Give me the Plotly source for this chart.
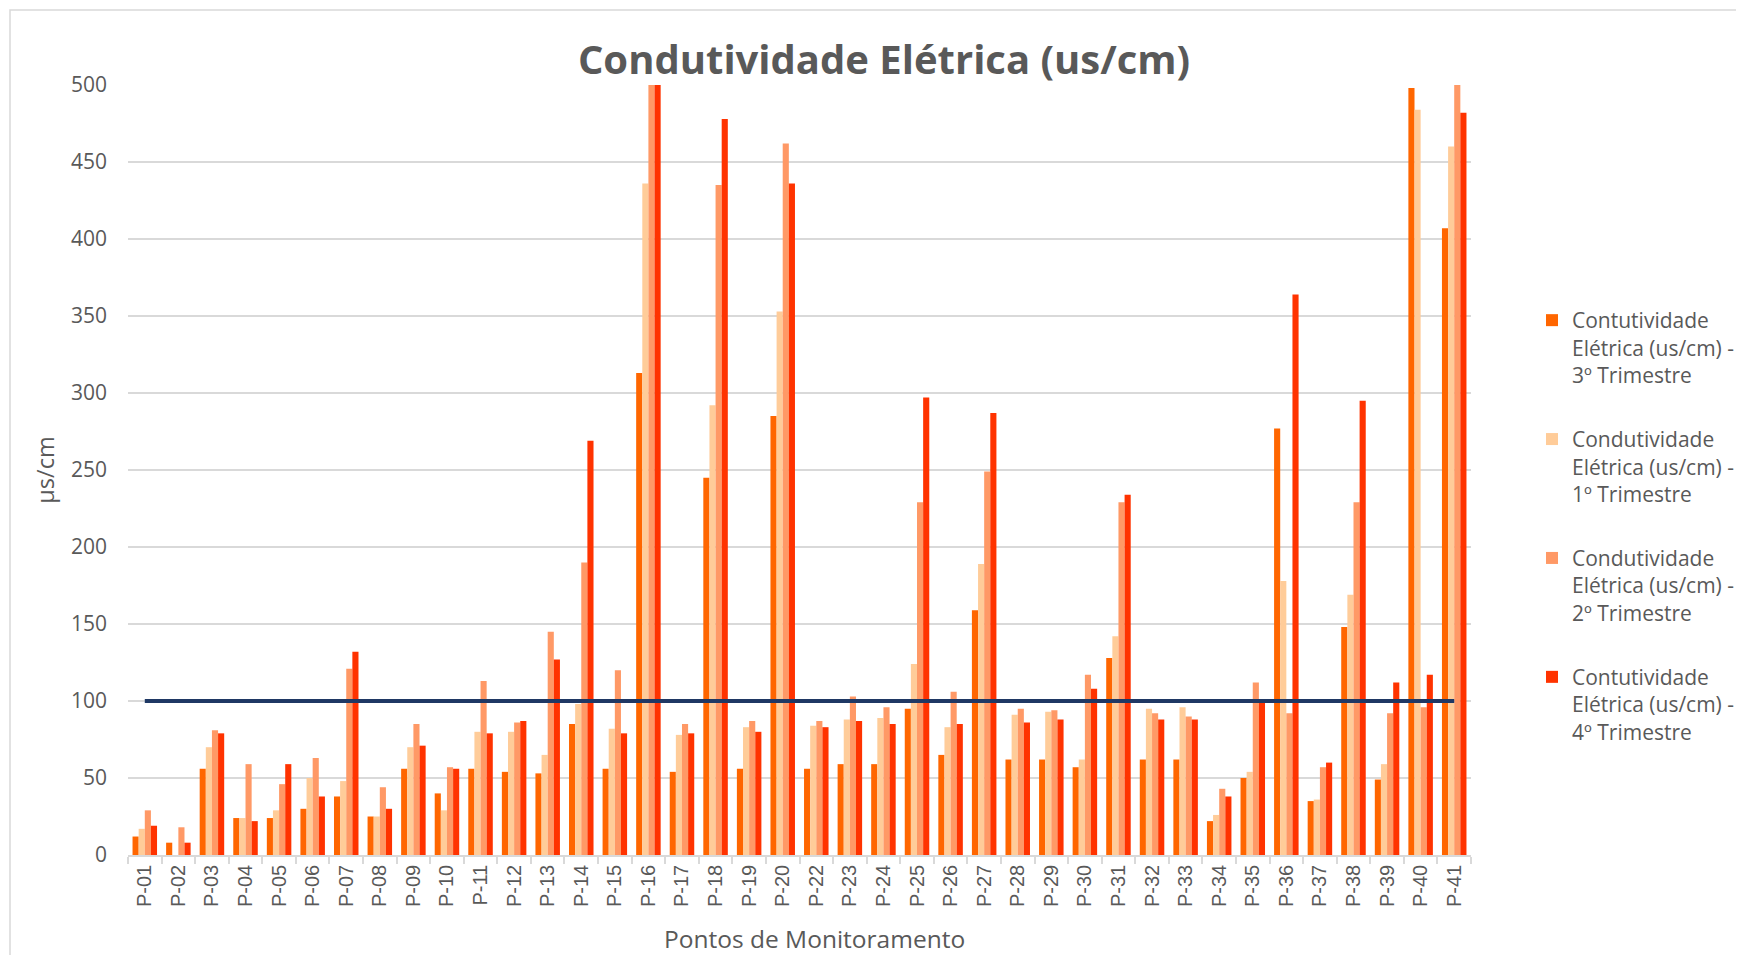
import plotly.graph_objects as go

categories = ["P-01", "P-02", "P-03", "P-04", "P-05", "P-06", "P-07", "P-08", "P-09", "P-10",
              "P-11", "P-12", "P-13", "P-14", "P-15", "P-16", "P-17", "P-18", "P-19", "P-20",
              "P-22", "P-23", "P-24", "P-25", "P-26", "P-27", "P-28", "P-29", "P-30", "P-31",
              "P-32", "P-33", "P-34", "P-35", "P-36", "P-37", "P-38", "P-39", "P-40", "P-41"]

trim3 = [12, 8, 56, 24, 24, 30, 38, 25, 56, 40,
         56, 54, 53, 85, 56, 313, 54, 245, 56, 285,
         56, 59, 59, 95, 65, 159, 62, 62, 57, 128,
         62, 62, 22, 50, 277, 35, 148, 49, 498, 407]

trim1 = [17, 0, 70, 24, 29, 50, 48, 25, 70, 29,
         80, 80, 65, 98, 82, 436, 78, 292, 83, 353,
         84, 88, 89, 124, 83, 189, 91, 93, 62, 142,
         95, 96, 26, 54, 178, 36, 169, 59, 484, 460]

trim2 = [29, 18, 81, 59, 46, 63, 121, 44, 85, 57,
         113, 86, 145, 190, 120, 500, 85, 435, 87, 462,
         87, 103, 96, 229, 106, 249, 95, 94, 117, 229,
         92, 90, 43, 112, 92, 57, 229, 92, 96, 500]

trim4 = [19, 8, 79, 22, 59, 38, 132, 30, 71, 56,
         79, 87, 127, 269, 79, 500, 79, 478, 80, 436,
         83, 87, 85, 297, 85, 287, 86, 88, 108, 234,
         88, 88, 38, 100, 364, 60, 295, 112, 117, 482]

LIMIT = 100

series_names = [
    "Contutividade<br>Elétrica (us/cm) -<br>3º Trimestre",
    "Condutividade<br>Elétrica (us/cm) -<br>1º Trimestre",
    "Condutividade<br>Elétrica (us/cm) -<br>2º Trimestre",
    "Contutividade<br>Elétrica (us/cm) -<br>4º Trimestre",
]
series_values = [trim3, trim1, trim2, trim4]
series_colors = ["#FF6600", "#FFCC99", "#FF9966", "#FF3300"]

GRAY = "#595959"
GRID = "#D9D9D9"

# the page body adds an 8px margin; work in figure pixels
OFF = 8
W, H = 1744 - OFF, 955 - OFF
PL, PR, PT, PB = 128 - OFF, 1471 - OFF, 85 - OFF, 855 - OFF

fig = go.Figure()
for i, (name, vals, col) in enumerate(zip(series_names, series_values, series_colors)):
    fig.add_trace(go.Bar(
        x=categories, y=vals, name=name,
        marker=dict(color=col, line=dict(width=0)),
        legendgroup=f"g{i}",
    ))

fig.add_trace(go.Scatter(
    x=[categories[0], categories[-1]], y=[LIMIT, LIMIT],
    mode="lines", line=dict(color="#1F3864", width=4),
    showlegend=False, hoverinfo="skip",
))


def px_x(p):
    return (p - PL) / (PR - PL)


def px_y(p):
    return (PB - p) / (PB - PT)


fig.update_layout(
    width=W, height=H,
    margin=dict(l=PL, r=W - PR, t=PT, b=H - PB, autoexpand=False),
    paper_bgcolor="white", plot_bgcolor="white",
    barmode="group", bargap=0.27, bargroupgap=0,
    font=dict(family="Open Sans, sans-serif", color=GRAY),
    title=dict(
        text="<b>Condutividade Elétrica (us/cm)</b>",
        font=dict(family="Open Sans, sans-serif", size=40, color=GRAY),
        x=(884 - OFF) / W, xref="container", xanchor="center",
        y=1 - 52 / H, yref="container", yanchor="middle",
    ),
    legend=dict(
        x=px_x(1572 - OFF - 40), xanchor="left", y=px_y(300 - OFF), yanchor="top",
        font=dict(family="Open Sans, sans-serif", size=21, color=GRAY),
        tracegroupgap=34, bgcolor="rgba(0,0,0,0)", valign="top",
    ),
    xaxis=dict(
        type="category", categoryorder="array", categoryarray=categories,
        tickson="boundaries", ticks="outside", ticklen=7, tickwidth=1.5, tickcolor=GRID,
        showline=True, linecolor=GRID, linewidth=1.5,
        showgrid=False, tickangle=-90,
        tickfont=dict(family="Liberation Sans, Arial, sans-serif", size=20, color=GRAY),
        automargin=False,
    ),
    yaxis=dict(
        range=[0, 500], dtick=50, tick0=0,
        showgrid=True, gridcolor=GRID, gridwidth=1.5,
        zeroline=False, showline=False, ticks="",
        ticklabelstandoff=20,
        tickfont=dict(family="Open Sans, sans-serif", size=21, color=GRAY),
        title=dict(text="µs/cm",
                   font=dict(family="Open Sans, sans-serif", size=23.5, color=GRAY),
                   standoff=9),
        automargin=False,
    ),
    annotations=[dict(
        text="Pontos de Monitoramento", showarrow=False,
        xref="paper", yref="paper",
        x=px_x(814 - OFF), y=px_y(938 - OFF), xanchor="center", yanchor="middle",
        font=dict(family="Open Sans, sans-serif", size=24.5, color=GRAY),
    )],
    shapes=[dict(
        type="rect", xref="paper", yref="paper",
        x0=px_x(10 - OFF), x1=px_x(W + 50), y0=px_y(10 - OFF), y1=px_y(H + 50),
        line=dict(color=GRID, width=1.5), fillcolor="rgba(0,0,0,0)", layer="below",
    )],
)

fig.write_html("out.html")
